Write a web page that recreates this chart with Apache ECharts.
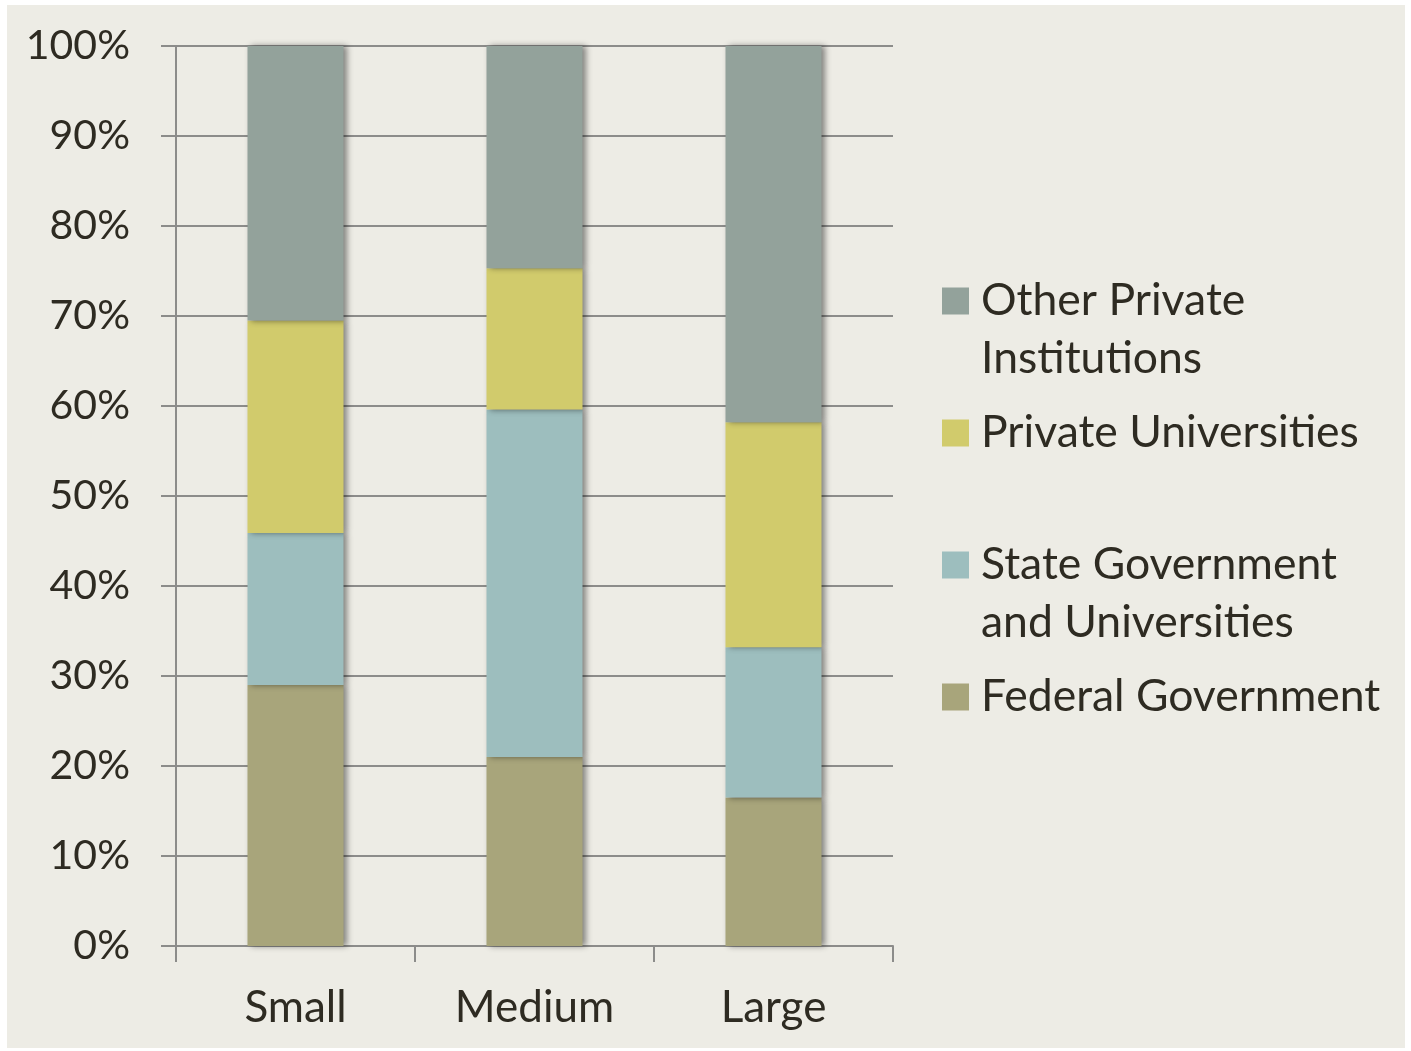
<!DOCTYPE html>
<html>
<head>
<meta charset="utf-8">
<script src="https://cdn.jsdelivr.net/npm/echarts@6/dist/echarts.min.js"></script>
<style>
html,body{margin:0;padding:0;background:#ffffff;}
#bg{position:absolute;left:7px;top:5px;width:1398px;height:1043px;background:#EDECE5;}
#chart{position:absolute;left:0;top:0;width:1411px;height:1051px;}
</style>
</head>
<body>
<div id="bg"></div>
<div id="chart"></div>
<script>
const categories = ['Small', 'Medium', 'Large'];
const federalGovernment = [29.0, 21.0, 16.5];
const stateGovernment = [16.9, 38.6, 16.7];
const privateUniversities = [23.6, 15.7, 25.0];
const otherPrivate = [30.5, 24.7, 41.8];
const seriesNames = ['Federal Government', 'State Government and Universities', 'Private Universities', 'Other Private Institutions'];
const legendOrder = ['Other Private Institutions', 'Private Universities', 'State Government and Universities', 'Federal Government'];
const legendLines = {
  'Other Private Institutions': ['Other Private', 'Institutions'],
  'Private Universities': ['Private Universities', ''],
  'State Government and Universities': ['State Government', 'and Universities'],
  'Federal Government': ['Federal Government', '']
};
const yTicks = [0, 10, 20, 30, 40, 50, 60, 70, 80, 90, 100];

const colors = ['#A8A57B', '#9DBEBE', '#D1CB6C', '#93A29B'];
const values = [federalGovernment, stateGovernment, privateUniversities, otherPrivate];
const FONT = 'Lato';
const TXT = '#2E2B22';
const GRID = '#8C8C8A';

const chart = echarts.init(document.getElementById('chart'));
chart.setOption({
  backgroundColor: 'transparent',
  animation: false,
  grid: { left: 176, right: 518, top: 46, bottom: 105, containLabel: false },
  legend: {
    orient: 'vertical',
    left: 942,
    top: 214,
    padding: 0,
    itemGap: -42,
    itemWidth: 27,
    itemHeight: 27,
    icon: 'rect',
    data: legendOrder,
    formatter: function (name) { return ['', legendLines[name][0], legendLines[name][1]].join('\n'); },
    textStyle: { fontFamily: FONT, fontSize: 44.5, color: TXT, lineHeight: 58, padding: [0, 0, 0, 7] },
    selectedMode: false
  },
  xAxis: {
    type: 'category',
    data: categories,
    axisLine: { show: true, lineStyle: { color: GRID, width: 2 } },
    axisTick: { show: true, length: 16, lineStyle: { color: GRID, width: 2 } },
    axisLabel: { fontFamily: FONT, fontSize: 44, color: TXT, margin: 40 }
  },
  yAxis: {
    type: 'value',
    min: yTicks[0],
    max: yTicks[yTicks.length - 1],
    interval: 10,
    axisLine: { show: true, lineStyle: { color: GRID, width: 2 } },
    axisTick: { show: true, length: 15, lineStyle: { color: GRID, width: 2 } },
    splitLine: { show: true, lineStyle: { color: GRID, width: 2 } },
    axisLabel: { fontFamily: FONT, fontSize: 41, color: TXT, margin: 46, formatter: '{value}%' }
  },
  series: seriesNames.map(function (n, i) {
    return {
      name: n,
      type: 'bar',
      stack: 'total',
      barWidth: 96,
      data: values[i],
      itemStyle: {
        color: colors[i],
        shadowColor: 'rgba(0,0,0,0.45)',
        shadowBlur: 6,
        shadowOffsetX: 3
      }
    };
  })
});
</script>
</body>
</html>
